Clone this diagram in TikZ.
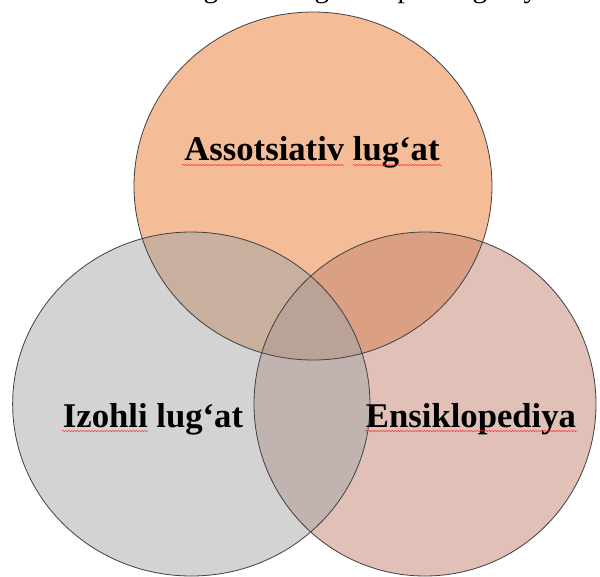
\documentclass[tikz,border=0pt]{standalone}
\usepackage{fontspec}
\setmainfont{Liberation Serif}
\usetikzlibrary{decorations.pathmorphing}
\definecolor{topc}{HTML}{F4BD98}
\definecolor{leftc}{HTML}{D3D3D3}
\definecolor{rightc}{HTML}{E0C0B7}
\definecolor{tlc}{HTML}{C9AF9E}
\definecolor{trc}{HTML}{DBA084}
\definecolor{lrc}{HTML}{C0B3B0}
\definecolor{allc}{HTML}{BBA296}
\definecolor{edgec}{HTML}{404040}
\begin{document}
\begin{tikzpicture}[x=0.75pt,y=-0.75pt,
  lbl/.style={font=\fontsize{26}{30}\selectfont\bfseries, anchor=base, inner sep=0pt},
  cut/.style={font=\fontsize{22}{26}\selectfont, anchor=base, inner sep=0pt},
  wavy/.style={draw=red!85, line width=0.35pt, decorate,
               decoration={snake, amplitude=0.45pt, segment length=2.2pt}},
  outline/.style={draw=edgec, line width=0.6pt}]
\useasboundingbox (0,0) rectangle (600,576);
\def\Ctop{(313,186) ellipse [x radius=134.25pt, y radius=130.5pt]}
\def\Cleft{(191.3,404) ellipse [x radius=134pt, y radius=129pt]}
\def\Cright{(425,404) ellipse [x radius=128.25pt, y radius=129pt]}
% cut-off line of text above the figure
\begin{scope}
  \clip (0,0) rectangle (600,576);
  \node[cut] (c1) at (211,-2.5) {g};
  \node[cut] (c2) at (322,-2.5) {g};
  \node[cut] (c3) at (405,-2.5) {p};
  \node[cut] (c4) at (480,-2.5) {g};
  \node[cut] (c5) at (531,-2.5) {y};
\end{scope}
% circles
\fill[topc] \Ctop;
\fill[leftc] \Cleft;
\fill[rightc] \Cright;
\begin{scope}
  \clip \Ctop;
  \fill[tlc] \Cleft;
  \fill[trc] \Cright;
\end{scope}
\begin{scope}
  \clip \Cleft;
  \fill[lrc] \Cright;
  \clip \Cright;
  \fill[allc] \Ctop;
\end{scope}
\draw[outline] \Ctop;
\draw[outline] \Cleft;
\draw[outline] \Cright;
% labels
\node[lbl] (assoc) at (312,160) {Assotsiativ lug‘at};
\node[lbl] (izohli) at (153,427) {Izohli lug‘at};
\node[lbl] (ensik) at (471,427) {Ensiklopediya};
% spell-check underlines
\draw[wavy] (182,165) -- (345,165);
\draw[wavy] (353,165) -- (442,165);
\draw[wavy] (62,431) -- (148,431);
\draw[wavy] (365,431) -- (578,431);
\end{tikzpicture}
\end{document}
